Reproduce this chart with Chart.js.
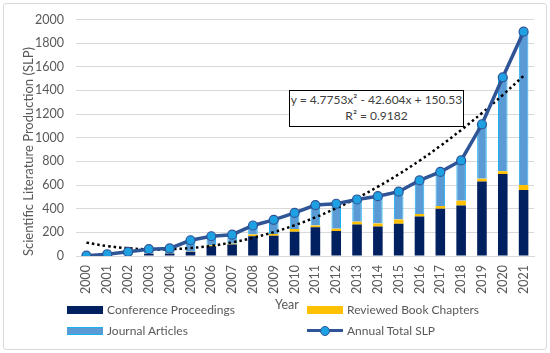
<!DOCTYPE html>
<html><head><meta charset="utf-8">
<script src="https://cdn.jsdelivr.net/npm/chart.js@4"></script>
<style>
html,body{margin:0;padding:0;background:#fff;}
#wrap{position:relative;width:550px;height:353px;font-family:Lato,"DejaVu Sans",sans-serif;color:#595959;overflow:hidden;}
#frame{position:absolute;left:3px;top:3px;width:542px;height:345px;border:1px solid #d9d9d9;border-radius:3px;}
canvas{position:absolute;left:0;top:0;}
.eq{position:absolute;left:289px;top:90px;width:173px;height:34px;border:1px solid #000;background:#fff;text-align:center;font-size:12px;line-height:16px;color:#404040;padding-top:1px;box-sizing:content-box;white-space:nowrap;}
.lg{position:absolute;font-size:12px;line-height:14px;color:#595959;white-space:nowrap;}
.box{position:absolute;width:36px;height:8px;}
.yr{position:absolute;left:275px;top:297px;font-size:12.5px;color:#595959;}
</style>
</head><body>
<div id="wrap">
<div id="frame"></div>
<canvas id="c" width="550" height="353"></canvas>
<div class="eq">y = 4.7753x² - 42.604x + 150.53<br>R² = 0.9182</div>
<div class="yr">Year</div>
<div class="box" style="left:67px;top:306px;background:#002060;"></div>
<div class="lg" style="left:107px;top:303px;">Conference Proceedings</div>
<div class="box" style="left:307px;top:306px;background:#FFC000;"></div>
<div class="lg" style="left:347px;top:303px;">Reviewed Book Chapters</div>
<div class="box" style="left:67px;top:327px;background:#5B9BD5;border-top:1px solid #1CB0F0;border-bottom:1px solid #1CB0F0;height:6px;"></div>
<div class="lg" style="left:107px;top:324px;">Journal Articles</div>
<div style="position:absolute;left:307px;top:329px;width:36px;height:3px;background:#2F5597;"></div>
<div style="position:absolute;left:320px;top:326px;width:8px;height:8px;border-radius:50%;background:#1DA1E2;border:1px solid #2F5597;"></div>
<div class="lg" style="left:347px;top:324px;">Annual Total SLP</div>
</div>
<script>
const years = ['2000','2001','2002','2003','2004','2005','2006','2007','2008','2009','2010','2011','2012','2013','2014','2015','2016','2017','2018','2019','2020','2021'];
const conferenceProceedings = [0,0,5,20,22,36,83,97,167,172,206,244,211,267,250,272,333,400,428,631,694,558];
const reviewedBookChapters = [0,0,0,2,2,3,8,7,14,15,22,14,20,22,25,36,23,22,39,22,23,42];
const journalArticles = [3,15,30,36,40,94,76,76,77,119,136,173,211,189,231,236,283,289,341,461,794,1297];
const annualTotalSLP = [3,15,35,58,64,133,167,180,258,306,364,431,442,478,506,544,639,711,808,1114,1511,1897];
const polyTrend = [113,84,66,56,57,67,86,115,154,202,260,327,404,490,586,691,806,931,1065,1209,1362,1524];

const tickFont = {family:'Lato', size:12.5};
new Chart(document.getElementById('c'), {
  data: {
    labels: years,
    datasets: [
      {type:'line', label:'Annual Total SLP', data:annualTotalSLP, stack:'total', order:0,
       borderColor:'#2F5597', borderWidth:3.5, pointRadius:4.5, pointBackgroundColor:'#1DA1E2',
       pointBorderColor:'#2F5597', pointBorderWidth:1.2, tension:0, fill:false},
      {type:'line', label:'Poly. trend', data:polyTrend, stack:'trend', order:1,
       borderColor:'#000', borderWidth:2.5, borderDash:[2.5,3], pointRadius:0, tension:0.4, fill:false},
      {type:'bar', label:'Conference Proceedings', data:conferenceProceedings, stack:'bars', order:2,
       backgroundColor:'#002060', barPercentage:0.46, categoryPercentage:1},
      {type:'bar', label:'Reviewed Book Chapters', data:reviewedBookChapters, stack:'bars', order:2,
       backgroundColor:'#FFC000', barPercentage:0.46, categoryPercentage:1},
      {type:'bar', label:'Journal Articles', data:journalArticles, stack:'bars', order:2,
       backgroundColor:'#5B9BD5', borderColor:'#1CB0F0', borderWidth:{left:1,right:1,top:0,bottom:0},
       barPercentage:0.46, categoryPercentage:1}
    ]
  },
  options: {
    responsive:false, animation:false,
    layout:{padding:{left:13, right:16, top:4, bottom:0}},
    plugins:{legend:{display:false}, tooltip:{enabled:false}},
    scales:{
      x:{stacked:true, grid:{display:false, drawTicks:false},
         border:{display:true, color:'#d9d9d9', width:1},
         ticks:{font:tickFont, color:'#595959', minRotation:90, maxRotation:90, padding:9, autoSkip:false},
         afterFit:(s)=>{ s.height = 97; }},
      y:{stacked:true, min:0, max:2000,
         grid:{color:'#d9d9d9', lineWidth:1, drawTicks:false},
         border:{display:false},
         ticks:{stepSize:200, font:tickFont, color:'#595959', padding:12, callback:(v)=>String(v)},
         title:{display:true, align:'start', text:'Scientific Literature Production (SLP)', font:{family:'Lato', size:13}, color:'#595959', padding:{top:8,bottom:2}},
         afterFit:(s)=>{ s.width = 63; }}
    }
  }
});
</script>
</body></html>
